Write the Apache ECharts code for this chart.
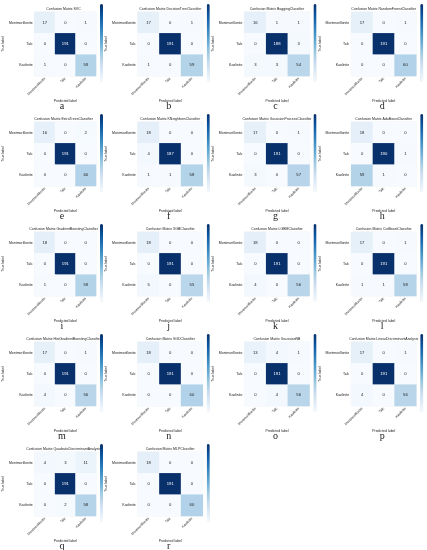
<!DOCTYPE html>
<html>
<head>
<meta charset="utf-8">
<script src="https://cdn.jsdelivr.net/npm/echarts@6/dist/echarts.min.js"></script>
<style>
  html, body { margin: 0; padding: 0; background: #fff; }
  #chart { width: 427px; height: 550px; }
</style>
</head>
<body>
<div id="chart"></div>
<script>
// classes (rows = true label, cols = predicted label)
const classes = ['Montmorillonite', 'Talc', 'Kaolinite'];

const letters = ['a','b','c','d','e','f','g','h','i','j','k','l','m','n','o','p','q','r'];

const models = [
  'SVC', 'DecisionTreeClassifier', 'BaggingClassifier', 'RandomForestClassifier',
  'ExtraTreesClassifier', 'KNeighborsClassifier', 'GaussianProcessClassifier', 'AdaBoostClassifier',
  'GradientBoostingClassifier', 'XGBClassifier', 'LGBMClassifier', 'CatBoostClassifier',
  'HistGradientBoostingClassifier', 'SGDClassifier', 'GaussianNB', 'LinearDiscriminantAnalysis',
  'QuadraticDiscriminantAnalysis', 'MLPClassifier'
];

// one 3x3 matrix per model
const svc   = [[17,0,1],[0,191,0],[1,0,59]];
const dtree = [[17,0,1],[0,191,0],[1,0,59]];
const bag   = [[16,1,1],[0,188,3],[3,3,54]];
const rf    = [[17,0,1],[0,191,0],[0,0,60]];
const et    = [[16,0,2],[0,191,0],[0,0,60]];
const knn   = [[18,0,0],[4,187,0],[1,1,58]];
const gpc   = [[17,0,1],[0,191,0],[3,0,57]];
const ada   = [[18,0,0],[0,190,1],[59,1,0]];
const gbc   = [[18,0,0],[0,191,0],[1,0,59]];
const xgb   = [[18,0,0],[0,191,0],[5,0,55]];
const lgbm  = [[18,0,0],[0,191,0],[4,0,56]];
const cat   = [[17,0,1],[0,191,0],[1,1,58]];
const hgb   = [[17,0,1],[0,191,0],[4,0,56]];
const sgd   = [[18,0,0],[0,191,0],[0,0,60]];
const gnb   = [[13,4,1],[0,191,0],[0,4,56]];
const lda   = [[17,0,1],[0,191,0],[4,0,56]];
const qda   = [[4,3,11],[0,191,0],[0,2,58]];
const mlp   = [[18,0,0],[0,191,0],[0,0,60]];

const matrices = [svc, dtree, bag, rf, et, knn, gpc, ada, gbc, xgb, lgbm, cat, hgb, sgd, gnb, lda, qda, mlp];

const blues = ['#f7fbff','#deebf7','#c6dbef','#9ecae1','#6baed6','#4292c6','#2171b5','#08519c','#08306b'];

let chart = echarts.init(document.getElementById('chart'));

let grids = [], xAxes = [], yAxes = [], series = [], vmaps = [], graphics = [];

matrices.forEach((m, i) => {
  const col = i % 4, row = Math.floor(i / 4);
  const ox = 106.75 * col, oy = 110 * row;
  const max = Math.max(...m.flat());

  grids.push({ left: ox + 31, top: oy + 12, width: 65, height: 64,
    show: true, borderColor: '#e4e4e4', borderWidth: 0.5 });

  xAxes.push({
    type: 'category', gridIndex: i, data: classes,
    axisLine: { show: false }, axisTick: { show: false }, splitLine: { show: false },
    axisLabel: { rotate: 45, fontSize: 3.5, margin: 2, color: '#222', interval: 0 },
    name: 'Predicted label', nameLocation: 'middle', nameGap: 21,
    nameTextStyle: { fontSize: 3.5, color: '#222' }
  });
  yAxes.push({
    type: 'category', gridIndex: i, data: classes, inverse: true,
    axisLine: { show: false }, axisTick: { show: false }, splitLine: { show: false },
    axisLabel: { fontSize: 3.5, margin: 2, color: '#222', interval: 0 },
    name: 'True label', nameLocation: 'middle', nameGap: 26,
    nameTextStyle: { fontSize: 3.5, color: '#222' }
  });

  let data = [];
  m.forEach((r, ti) => r.forEach((v, pi) => data.push({
    value: [pi, ti, v],
    label: { color: v > max / 2 ? '#fff' : '#222' }
  })));

  series.push({
    type: 'heatmap', xAxisIndex: i, yAxisIndex: i, data: data,
    label: { show: true, fontSize: 4.2 },
    itemStyle: { borderWidth: 0 }
  });

  vmaps.push({
    type: 'continuous', seriesIndex: i, min: 0, max: max,
    calculable: false, show: true, padding: 0,
    left: ox + 100, top: oy + 4, itemWidth: 3, itemHeight: 78,
    text: ['', ''], inRange: { color: blues }
  });

  graphics.push({
    type: 'text', x: ox + 63.5, y: oy + 9,
    style: { text: 'Confusion Matrix ' + models[i], font: '3.5px sans-serif',
      fill: '#222', textAlign: 'center', textVerticalAlign: 'middle' }
  });
  graphics.push({
    type: 'text', x: ox + 62, y: oy + 106,
    style: { text: letters[i], font: '10px "Liberation Serif"',
      fill: '#222', textAlign: 'center', textVerticalAlign: 'middle' }
  });
});

chart.setOption({
  animation: false,
  backgroundColor: '#fff',
  grid: grids,
  xAxis: xAxes,
  yAxis: yAxes,
  visualMap: vmaps,
  series: series,
  graphic: graphics
});
</script>
</body>
</html>
